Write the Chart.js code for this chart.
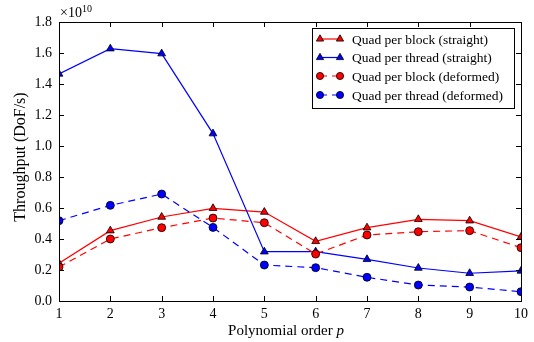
<!DOCTYPE html>
<html><head><meta charset="utf-8">
<script src="https://cdn.jsdelivr.net/npm/chart.js@4/dist/chart.umd.min.js"></script>
<style>html,body{margin:0;padding:0;background:#fff}#wrap{width:534px;height:342px}</style>
</head><body><div id="wrap"><canvas id="c" width="534" height="342"></canvas></div>
<script>
// Data (throughput in units of 1e10 DoF/s)
const orders = [1,2,3,4,5,6,7,8,9,10];
const yTicks = [0,0.2,0.4,0.6,0.8,1.0,1.2,1.4,1.6,1.8];
const exponentLabel = '10';
const blockStraight = [0.243,0.454,0.542,0.598,0.574,0.385,0.473,0.527,0.518,0.413];
const threadStraight = [1.465,1.628,1.596,1.080,0.318,0.318,0.269,0.213,0.179,0.194];
const blockDeformed = [0.219,0.400,0.473,0.535,0.505,0.303,0.426,0.447,0.454,0.344];
const threadDeformed = [0.518,0.617,0.690,0.475,0.232,0.215,0.153,0.103,0.090,0.060];
const seriesNames = ['Quad per block (straight)','Quad per thread (straight)','Quad per block (deformed)','Quad per thread (deformed)'];

const SERIF = '"Liberation Serif", "DejaVu Serif", serif';
const RED = '#ff0000', BLUE = '#0000ff';
const styles = [
  {color:RED, shape:'triangle', dash:[]},
  {color:BLUE, shape:'triangle', dash:[]},
  {color:RED, shape:'circle', dash:[7,5]},
  {color:BLUE, shape:'circle', dash:[7,5]},
];
const seriesData = [blockStraight, threadStraight, blockDeformed, threadDeformed];

const datasets = seriesData.map((vals,i)=>({
  label: seriesNames[i],
  data: orders.map((o,k)=>({x:o,y:vals[k]})),
  borderColor: styles[i].color,
  backgroundColor: styles[i].color,
  borderWidth: 1.2,
  borderDash: styles[i].dash,
  pointStyle: styles[i].shape,
  pointRadius: styles[i].shape==='triangle'?4.5:4,
  pointBorderColor: '#000',
  pointBorderWidth: 0.8,
  pointBackgroundColor: styles[i].color,
  tension: 0,
  clip: 0,
  order: 4-i
}));

function drawMarker(ctx, shape, x, y, color){
  ctx.save();
  ctx.setLineDash([]);
  ctx.fillStyle = color; ctx.strokeStyle = '#000'; ctx.lineWidth = 0.8;
  ctx.beginPath();
  if(shape==='circle'){ ctx.arc(x,y,3.6,0,Math.PI*2); }
  else { const r=4.2; ctx.moveTo(x, y-r); ctx.lineTo(x+r*0.866, y+r*0.5); ctx.lineTo(x-r*0.866, y+r*0.5); ctx.closePath(); }
  ctx.fill(); ctx.stroke();
  ctx.restore();
}

const decor = {
  id:'decor',
  afterDraw(chart){
    const ctx = chart.ctx, a = chart.chartArea;
    const xs = chart.scales.x, ys = chart.scales.y;
    ctx.save();
    ctx.strokeStyle = '#000'; ctx.lineWidth = 1; ctx.setLineDash([]);
    // frame
    ctx.strokeRect(Math.round(a.left)+0.5, Math.round(a.top)+0.5, Math.round(a.right-a.left), Math.round(a.bottom-a.top));
    const tl = 5;
    ctx.beginPath();
    xs.ticks.forEach((t,i)=>{
      const px = Math.round(xs.getPixelForValue(t.value))+0.5;
      ctx.moveTo(px, a.bottom); ctx.lineTo(px, a.bottom-tl);
      ctx.moveTo(px, a.top); ctx.lineTo(px, a.top+tl);
    });
    ys.ticks.forEach((t,i)=>{
      const py = Math.round(ys.getPixelForValue(t.value))+0.5;
      ctx.moveTo(a.left, py); ctx.lineTo(a.left+tl, py);
      ctx.moveTo(a.right, py); ctx.lineTo(a.right-tl, py);
    });
    ctx.stroke();
    // exponent label
    ctx.fillStyle = '#000';
    ctx.textBaseline = 'alphabetic'; ctx.textAlign = 'left';
    ctx.font = '14px ' + SERIF;
    ctx.fillText('\u00d710', a.left+1, a.top-5);
    const w = ctx.measureText('\u00d710').width;
    ctx.font = '10px ' + SERIF;
    ctx.fillText(exponentLabel, a.left+1+w, a.top-10);
    // axis titles
    const t1 = 'Polynomial order ';
    ctx.font = '15px ' + SERIF;
    const w1 = ctx.measureText(t1).width;
    ctx.font = 'italic 15px ' + SERIF;
    const w2 = ctx.measureText('p').width;
    const cx = 286, startX = cx - (w1+w2)/2;
    ctx.font = '15px ' + SERIF;
    ctx.fillText(t1, startX, 335);
    ctx.font = 'italic 15px ' + SERIF;
    ctx.fillText('p', startX+w1, 335);
    ctx.save();
    ctx.translate(25, 157);
    ctx.rotate(-Math.PI/2);
    ctx.font = '16px ' + SERIF; ctx.textAlign='center';
    ctx.fillText('Throughput (DoF/s)', 0, 0);
    ctx.restore();
    // legend
    const lx = 312, ly = 28, lw = 202, lh = 80;
    ctx.fillStyle = '#fff';
    ctx.fillRect(lx, ly, lw, lh);
    ctx.strokeStyle = '#000'; ctx.lineWidth = 1;
    ctx.strokeRect(lx+0.5, ly+0.5, lw, lh);
    ctx.font = '13.5px ' + SERIF; ctx.textBaseline = 'middle'; ctx.textAlign='left';
    const rows = [39, 57.5, 76, 95];
    seriesNames.forEach((name,i)=>{
      const y = rows[i], s = styles[i];
      ctx.save();
      ctx.strokeStyle = s.color; ctx.lineWidth = 1.2; ctx.setLineDash(s.dash);
      ctx.beginPath(); ctx.moveTo(320, y); ctx.lineTo(340, y); ctx.stroke();
      ctx.restore();
      drawMarker(ctx, s.shape, 320, y, s.color);
      drawMarker(ctx, s.shape, 340, y, s.color);
      ctx.fillStyle = '#000';
      ctx.fillText(name, 352, y+1);
    });
    ctx.restore();
  }
};

new Chart(document.getElementById('c'), {
  type: 'line',
  data: { datasets },
  options: {
    responsive: false,
    animation: false,
    devicePixelRatio: 1,
    layout: { padding: { left: 0, right: 13, top: 22, bottom: 0 } },
    plugins: { legend: { display: false }, tooltip: { enabled: false } },
    scales: {
      x: {
        type: 'linear', min: 1, max: 10,
        afterBuildTicks(s){ s.ticks = orders.map(v=>({value:v})); },
        grid: { display: false, drawTicks: false },
        border: { display: false },
        ticks: { color:'#000', font:{family:SERIF, size:14}, padding: 5, maxRotation: 0, autoSkip:false,
                 callback:(v)=>String(v) },
        afterFit(s){ s.height = 41; }
      },
      y: {
        type: 'linear', min: 0, max: 1.8,
        afterBuildTicks(s){ s.ticks = yTicks.map(v=>({value:v})); },
        grid: { display: false, drawTicks: false },
        border: { display: false },
        ticks: { color:'#000', font:{family:SERIF, size:14}, padding: 7,
                 callback:(v)=>Number(v).toFixed(1) },
        afterFit(s){ s.width = 59; }
      }
    }
  },
  plugins: [decor]
});
</script></body></html>
